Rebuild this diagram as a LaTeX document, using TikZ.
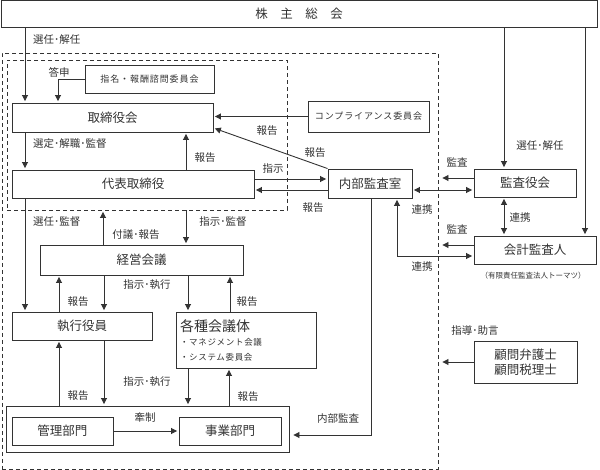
\documentclass[tikz,border=0pt]{standalone}
\usepackage{fontspec}
\setmainfont{Noto Sans CJK JP}
\usetikzlibrary{arrows.meta}
\definecolor{ink}{HTML}{333333}
\begin{document}
\begin{tikzpicture}[x=1pt,y=-1pt,
  every node/.style={text=ink},
  box/.style={draw=ink, line width=0.9pt, inner sep=0pt, font=\fontsize{12.5}{15}\selectfont, align=center},
  smallbox/.style={box, font=\fontsize{9}{11}\selectfont\addfontfeature{LetterSpace=10}},
  lbl/.style={font=\fontsize{10.5}{12}\selectfont, inner sep=0pt},
  note/.style={font=\fontsize{7.5}{9}\selectfont, inner sep=0pt},
  dashbox/.style={draw=ink, line width=0.9pt, dash pattern=on 4pt off 3pt, inner sep=0pt},
  arr/.style={draw=ink, line width=0.9pt, -{Triangle[length=6pt,width=6pt]}, shorten >=1.5pt},
  arrtwo/.style={draw=ink, line width=0.9pt, {Triangle[length=6pt,width=6pt]}-{Triangle[length=6pt,width=6pt]}, shorten >=1.5pt, shorten <=1.5pt},
]
\useasboundingbox (0,0) rectangle (600,470);
% dashed frames
\node[dashbox, minimum width=436, minimum height=416] (outer) at (220,261) {};
\node[dashbox, minimum width=280, minimum height=150] (inner) at (147,135) {};
% boxes
\node[box, minimum width=596, minimum height=27] (sh) at (299,13.5) {株\hspace{1em}主\hspace{1em}総\hspace{1em}会};
\node[smallbox, minimum width=129, minimum height=28] (shimei) at (149.5,79) {指名・報酬諮問委員会};
\node[box, minimum width=201, minimum height=29] (tori) at (112.5,117.5) {取締役会};
\node[smallbox, minimum width=121, minimum height=31] (comp) at (368.5,116.5) {コンプライアンス委員会};
\node[box, minimum width=242, minimum height=28] (daihyo) at (133,184) {代表取締役};
\node[box, minimum width=84, minimum height=29] (naibu) at (370,183.5) {内部監査室};
\node[box, minimum width=102, minimum height=28] (kansayaku) at (525,183) {監査役会};
\node[box, minimum width=122, minimum height=28] (kaikei) at (535,250) {会計監査人};
\node[note] (tohmatsu) at (533,276) {（有限責任監査法人トーマツ）};
\node[box, minimum width=203, minimum height=30] (keiei) at (141.5,260) {経営会議};
\node[box, minimum width=140, minimum height=28] (shikko) at (82,326) {執行役員};
\node[box, minimum width=140, minimum height=56, align=left, text width=132, inner sep=0pt] (kakushu) at (246,340)
  {{\fontsize{14}{17}\selectfont 各種会議体}\\[-1pt]
   {\fontsize{8.5}{13}\selectfont\addfontfeature{LetterSpace=8} ・マネジメント会議}\\
   {\fontsize{8.5}{13}\selectfont\addfontfeature{LetterSpace=8} ・システム委員会}};
\node[box, minimum width=283, minimum height=46] (dept) at (147.5,429) {};
\node[box, minimum width=101, minimum height=28] (kanri) at (62.5,431) {管理部門};
\node[box, minimum width=102, minimum height=28] (jigyo) at (230,431) {事業部門};
\node[box, minimum width=103, minimum height=42, font=\fontsize{12.5}{15}\selectfont] (komon) at (525.5,362) {顧問弁護士\\顧問税理士};

% connectors
\draw[arr] (sh.south -| 25,0) -- (tori.north -| 25,0);
\draw[arr] (shimei.west) -| (tori.north -| 58,0);
\draw[arr] (tori.south -| 25,0) -- (daihyo.north -| 25,0);
\draw[arr] (daihyo.north -| 186,0) -- (tori.south -| 186,0);
\draw[arr] (comp.west) -- (tori.east |- comp.west);
\draw[arr] (naibu.north west) -- (tori.east |- 0,128);
\draw[arr] (daihyo.east |- 0,179) -- (naibu.west |- 0,179);
\draw[arr] (naibu.west |- 0,190) -- (daihyo.east |- 0,190);
\draw[arrtwo] (naibu.east |- 0,190) -- (kansayaku.west |- 0,190);
\draw[arr] (sh.south -| 504,0) -- (kansayaku.north -| 504,0);
\draw[arr] (sh.south -| 585,0) -- (kaikei.north -| 585,0);
\draw[arr, shorten >=4pt] (kansayaku.west |- 0,178) -- (outer.east |- 0,178);
\draw[arr, shorten >=4pt] (kaikei.west |- 0,245) -- (outer.east |- 0,245);
\draw[arrtwo] (kansayaku.south -| 504,0) -- (kaikei.north -| 504,0);
\draw[arrtwo] (naibu.south -| 397,0) |- (kaikei.west |- 0,256);
\draw[arr, shorten >=4pt] (komon.west) -- (outer.east |- komon.west);
\draw[arr, shorten >=4pt] (naibu.south -| 371,0) |- (dept.east |- 0,435);
\draw[arr] (daihyo.south -| 25,0) -- (shikko.north -| 25,0);
\draw[arr] (keiei.north -| 103,0) -- (inner.south -| 103,0);
\draw[arr] (inner.south -| 186,0) -- (keiei.north -| 186,0);
\draw[arr] (shikko.north -| 59,0) -- (keiei.south -| 59,0);
\draw[arr] (keiei.south -| 104,0) -- (shikko.north -| 104,0);
\draw[arr] (keiei.south -| 188,0) -- (kakushu.north -| 188,0);
\draw[arr] (kakushu.north -| 230,0) -- (keiei.south -| 230,0);
\draw[arr] (dept.north -| 59,0) -- (shikko.south -| 59,0);
\draw[arr] (shikko.south -| 104,0) -- (dept.north -| 104,0);
\draw[arr] (kakushu.south -| 188,0) -- (dept.north -| 188,0);
\draw[arr] (dept.north -| 229,0) -- (kakushu.south -| 229,0);
\draw[arr] (kanri.east) -- (jigyo.west);

% labels
\node[lbl, anchor=west] (l1) at (33,40) {選任･解任};
\node[lbl] (l2) at (59,72) {答申};
\node[lbl, anchor=west] (l3) at (33,144) {選定･解職･監督};
\node[lbl] (l4) at (205,158) {報告};
\node[lbl] (l5) at (267,131) {報告};
\node[lbl] (l6) at (315,153) {報告};
\node[lbl] (l7) at (273,169) {指示};
\node[lbl] (l8) at (313,208) {報告};
\node[lbl] (l9) at (540,146) {選任･解任};
\node[lbl] (l10) at (457,162) {監査};
\node[lbl] (l11) at (457,229) {監査};
\node[lbl] (l12) at (520,218) {連携};
\node[lbl] (l13) at (422,210) {連携};
\node[lbl] (l14) at (422,267) {連携};
\node[lbl] (l15) at (475,331) {指導･助言};
\node[lbl] (l16) at (338,419) {内部監査};
\node[lbl, anchor=west] (l17) at (33,222) {選任･監督};
\node[lbl] (l18) at (136,235) {付議･報告};
\node[lbl] (l19) at (223,222) {指示･監督};
\node[lbl] (l20) at (78,302) {報告};
\node[lbl] (l21) at (147,285) {指示･執行};
\node[lbl] (l22) at (247,302) {報告};
\node[lbl] (l23) at (78,396) {報告};
\node[lbl] (l24) at (147,382) {指示･執行};
\node[lbl] (l25) at (248,397) {報告};
\node[lbl] (l26) at (145,418) {牽制};
\end{tikzpicture}
\end{document}
